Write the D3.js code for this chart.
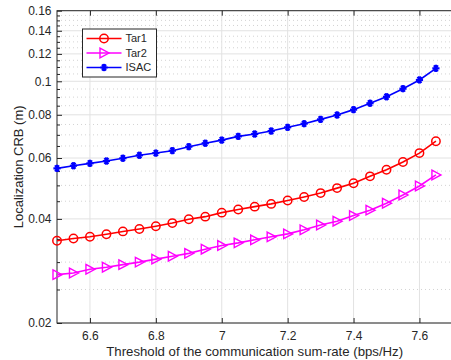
<!DOCTYPE html>
<html>
<head>
<meta charset="utf-8">
<script src="https://cdn.jsdelivr.net/npm/d3@7"></script>
<style>
  html, body { margin: 0; padding: 0; background: #fff; }
  svg { display: block; font-family: 'Liberation Sans', Arial, sans-serif; }
</style>
</head>
<body>
<div id="chart"></div>
<script>
/* ── data ─────────────────────────────────────────────────────────── */
const rates = [6.5, 6.55, 6.6, 6.65, 6.7, 6.75, 6.8, 6.85, 6.9, 6.95, 7.0, 7.05,
               7.1, 7.15, 7.2, 7.25, 7.3, 7.35, 7.4, 7.45, 7.5, 7.55, 7.6, 7.65];
const tar1 = [0.0346, 0.0351, 0.0355, 0.0361, 0.0368, 0.0374, 0.0381, 0.0389,
              0.0399, 0.0406, 0.0417, 0.0426, 0.0434, 0.0442, 0.0452, 0.0463,
              0.0475, 0.0491, 0.0507, 0.0531, 0.0555, 0.0584, 0.0620, 0.0671];
const tar2 = [0.0276, 0.0279, 0.0286, 0.0290, 0.0295, 0.0300, 0.0306, 0.0312,
              0.0318, 0.0327, 0.0335, 0.0341, 0.0348, 0.0355, 0.0362, 0.0372,
              0.0384, 0.0394, 0.0409, 0.0424, 0.0444, 0.0469, 0.0498, 0.0536];
const isac = [0.0560, 0.0570, 0.0579, 0.0588, 0.0599, 0.0611, 0.0620, 0.0630,
              0.0647, 0.0662, 0.0676, 0.0693, 0.0704, 0.0718, 0.0736, 0.0754,
              0.0776, 0.0799, 0.0828, 0.0864, 0.0902, 0.0952, 0.1009, 0.1090];
const xTicks = [6.6, 6.8, 7.0, 7.2, 7.4, 7.6];
const yTicks = [0.02, 0.04, 0.06, 0.08, 0.1, 0.12, 0.14, 0.16];
const yMinor = [0.025, 0.03, 0.035, 0.045, 0.05, 0.055, 0.065, 0.07, 0.075,
                0.085, 0.09, 0.095, 0.105, 0.11, 0.115, 0.125, 0.13, 0.135,
                0.145, 0.15, 0.155];
const seriesNames = ['Tar1', 'Tar2', 'ISAC'];

/* ── layout ───────────────────────────────────────────────────────── */
const W = 451, H = 360;
const L = 57, R = 452.4, T = 10.7, B = 323;
const AX = '#262626';

const svg = d3.select('#chart').append('svg')
  .attr('width', W).attr('height', H);

const x = d3.scaleLinear().domain([6.5, 7.7]).range([L, R]);
const y = d3.scaleLog().domain([0.02, 0.16]).range([B, T]);

/* ── grid ─────────────────────────────────────────────────────────── */
const grid = svg.append('g');
grid.selectAll('.ymin').data(yMinor).join('line')
  .attr('x1', L).attr('x2', R)
  .attr('y1', d => y(d)).attr('y2', d => y(d))
  .attr('stroke', '#c8c8c8').attr('stroke-width', 0.8)
  .attr('stroke-dasharray', '1,3');
grid.selectAll('.ymaj').data(yTicks).join('line')
  .attr('x1', L).attr('x2', R)
  .attr('y1', d => y(d)).attr('y2', d => y(d))
  .attr('stroke', '#e2e2e2').attr('stroke-width', 1);
grid.selectAll('.xmaj').data(xTicks).join('line')
  .attr('y1', T).attr('y2', B)
  .attr('x1', d => x(d)).attr('x2', d => x(d))
  .attr('stroke', '#e2e2e2').attr('stroke-width', 1);

/* ── axes (ticks inside, like matlab) ─────────────────────────────── */
const fmtY = d => String(+d.toFixed(2));

svg.append('g').attr('transform', `translate(0,${B})`)
  .call(d3.axisBottom(x).tickValues(xTicks).tickSizeInner(-5).tickSizeOuter(0)
    .tickPadding(8.5).tickFormat(d => String(+d.toFixed(1))))
  .call(g => g.select('.domain').remove());
svg.append('g').attr('transform', `translate(0,${T})`)
  .call(d3.axisTop(x).tickValues(xTicks).tickSizeInner(-5).tickSizeOuter(0).tickFormat(''))
  .call(g => g.select('.domain').remove());
svg.append('g').attr('transform', `translate(${L},0)`)
  .call(d3.axisLeft(y).tickValues(yTicks).tickSizeInner(-5).tickSizeOuter(0)
    .tickPadding(5.5).tickFormat(fmtY))
  .call(g => g.select('.domain').remove());
svg.append('g').attr('transform', `translate(${L},0)`)
  .call(d3.axisLeft(y).tickValues(yMinor).tickSizeInner(-3).tickSizeOuter(0).tickFormat(''))
  .call(g => g.select('.domain').remove());

svg.selectAll('.tick line').attr('stroke', AX);
svg.selectAll('.tick text')
  .attr('fill', AX).attr('font-size', 12)
  .attr('font-family', 'Liberation Sans, Arial, sans-serif');

/* box */
svg.append('rect')
  .attr('x', L).attr('y', T).attr('width', R - L).attr('height', B - T)
  .attr('fill', 'none').attr('stroke', AX).attr('stroke-width', 1);

/* axis titles */
svg.append('text')
  .attr('x', (L + R) / 2).attr('y', 356)
  .attr('text-anchor', 'middle').attr('font-size', 13.2).attr('fill', AX)
  .text('Threshold of the communication sum-rate (bps/Hz)');
svg.append('text')
  .attr('transform', `translate(23,${(T + B) / 2}) rotate(-90)`)
  .attr('text-anchor', 'middle').attr('font-size', 13).attr('fill', AX)
  .text('Localization CRB (m)');

/* ── markers ──────────────────────────────────────────────────────── */
function drawMarker(g, kind, color) {
  if (kind === 'circle') {
    g.append('circle').attr('r', 4.2)
      .attr('fill', 'none').attr('stroke', color).attr('stroke-width', 1.5);
  } else if (kind === 'tri') {
    g.append('path').attr('d', 'M-4,-4.8 L5,0 L-4,4.8 Z')
      .attr('fill', 'none').attr('stroke', color).attr('stroke-width', 1.4)
      .attr('stroke-linejoin', 'miter');
  } else {
    [0, 60, 120].forEach(a => {
      g.append('line').attr('x1', -3.6).attr('x2', 3.6)
        .attr('transform', `rotate(${a})`)
        .attr('stroke', color).attr('stroke-width', 2.2);
    });
    g.append('line').attr('y1', -3.6).attr('y2', 3.6)
      .attr('stroke', color).attr('stroke-width', 2.2);
  }
}

const series = [
  { name: seriesNames[0], vals: tar1, color: '#ff0000', marker: 'circle' },
  { name: seriesNames[1], vals: tar2, color: '#ff00ff', marker: 'tri' },
  { name: seriesNames[2], vals: isac, color: '#0000ff', marker: 'star' },
];

const line = d3.line().x(d => x(d[0])).y(d => y(d[1]));

series.forEach(s => {
  const pts = rates.map((r, i) => [r, s.vals[i]]);
  svg.append('path').datum(pts)
    .attr('d', line).attr('fill', 'none')
    .attr('stroke', s.color).attr('stroke-width', 1.6);
  pts.forEach(p => {
    const g = svg.append('g').attr('transform', `translate(${x(p[0])},${y(p[1])})`);
    drawMarker(g, s.marker, s.color);
  });
});

/* ── legend ───────────────────────────────────────────────────────── */
const leg = svg.append('g').attr('transform', 'translate(82.5,29)');
leg.append('rect').attr('width', 74).attr('height', 48)
  .attr('fill', '#fff').attr('stroke', AX).attr('stroke-width', 1);
series.forEach((s, i) => {
  const cy = 9.5 + i * 14.5;
  leg.append('line').attr('x1', 4).attr('x2', 39).attr('y1', cy).attr('y2', cy)
    .attr('stroke', s.color).attr('stroke-width', 1.6);
  const mg = leg.append('g').attr('transform', `translate(21.5,${cy})`);
  drawMarker(mg, s.marker, s.color);
  leg.append('text').attr('x', 43).attr('y', cy + 3.9)
    .attr('font-size', 11).attr('fill', AX).text(s.name);
});
</script>
</body>
</html>
